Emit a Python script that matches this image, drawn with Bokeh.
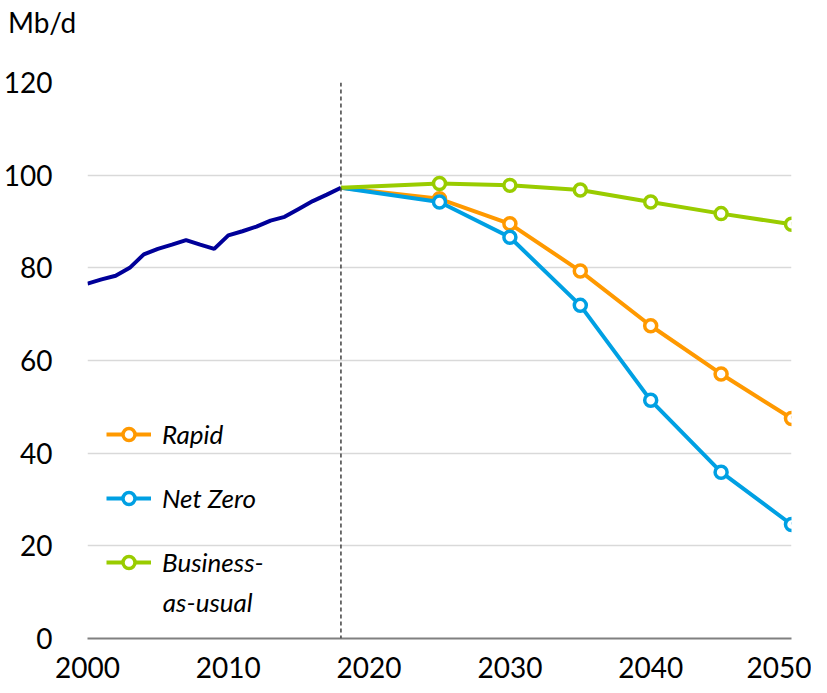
from bokeh.plotting import figure
from bokeh.models import Span, Label, Legend, LegendItem, FixedTicker, Range1d, Div
from bokeh.layouts import column
from bokeh.embed import file_html
from bokeh.resources import INLINE

# ---- data ----
hist_years = list(range(2000, 2019))
hist_values = [76.6, 77.5, 78.3, 80.0, 82.9, 84.1, 85.0, 86.0, 85.0, 84.1,
               87.0, 87.9, 88.9, 90.2, 91.0, 92.7, 94.4, 95.8, 97.3]

scen_years = [2018, 2025, 2030, 2035, 2040, 2045, 2050]
rapid = [97.3, 94.9, 89.5, 79.3, 67.5, 57.1, 47.5]
net_zero = [97.3, 94.2, 86.6, 71.9, 51.4, 35.9, 24.6]
bau = [97.3, 98.2, 97.8, 96.8, 94.2, 91.7, 89.4]

x_ticks = [2000, 2010, 2020, 2030, 2040, 2050]
y_ticks = [0, 20, 40, 60, 80, 100, 120]
split_year = 2018
unit_label = "Mb/d"

FONT = "Lato"

header = Div(text=('<div style="padding: 5px 0 0 8px; font-family: Lato; '
                   'font-size: 28px; line-height: 34px; color: black;">'
                   + unit_label + '</div>'),
             width=811, height=40, margin=0)

p = figure(width=811, height=645, output_backend="svg", toolbar_location=None,
           x_range=Range1d(2000, 2050), y_range=Range1d(0, 120),
           min_border_left=80, min_border_right=20, min_border_top=42,
           min_border_bottom=47, margin=0)
p.outline_line_color = None
p.background_fill_color = "white"

# grid
p.xgrid.grid_line_color = None
p.ygrid.grid_line_color = "#D9D9D9"
p.ygrid.grid_line_width = 1.5
p.ygrid.ticker = FixedTicker(ticks=y_ticks)

# axes
p.xaxis.ticker = FixedTicker(ticks=x_ticks)
p.yaxis.ticker = FixedTicker(ticks=y_ticks)
p.xaxis.axis_line_color = "#808080"
p.xaxis.axis_line_width = 2
p.yaxis.axis_line_color = None
for ax in (p.xaxis, p.yaxis):
    ax.major_tick_line_color = None
    ax.minor_tick_line_color = None
    ax.major_label_text_font = FONT
    ax.major_label_text_font_size = "28px"
    ax.major_label_text_color = "black"
p.xaxis.major_label_standoff = 12
p.yaxis.major_label_standoff = 29

# dashed split line
p.add_layout(Span(location=split_year, dimension="height", line_color="#404040",
                  line_width=1.5, line_dash="4 3"))

# historical
p.line(hist_years, hist_values, line_color="#000099", line_width=4)

series = [("Rapid", rapid, "#FF9900"),
          ("Net Zero", net_zero, "#00A0E3"),
          ("Business-", bau, "#99CC00")]
items = []
for name, vals, col in series:
    lr = p.line(scen_years, vals, line_color=col, line_width=4)
    sr = p.scatter(scen_years[1:], vals[1:], size=12, fill_color="white",
                   line_color=col, line_width=3.5)
    items.append(LegendItem(label=name, renderers=[lr, sr]))

legend = Legend(items=items, location=(19, 60), orientation="vertical",
                background_fill_alpha=0, border_line_color=None,
                padding=0, margin=0, spacing=32, glyph_width=45,
                glyph_height=30, label_height=30, label_standoff=11,
                label_text_font=FONT, label_text_font_style="italic",
                label_text_font_size="26px", label_text_color="black")
p.add_layout(legend, "center")

p.add_layout(Label(x=2005.35, y=7.8, text="as-usual", text_font=FONT,
                   text_font_style="italic", text_font_size="26px",
                   text_baseline="middle", text_align="left", text_color="black"))

layout = column(header, p, spacing=0)
open("out.html", "w").write(file_html(layout, INLINE))
